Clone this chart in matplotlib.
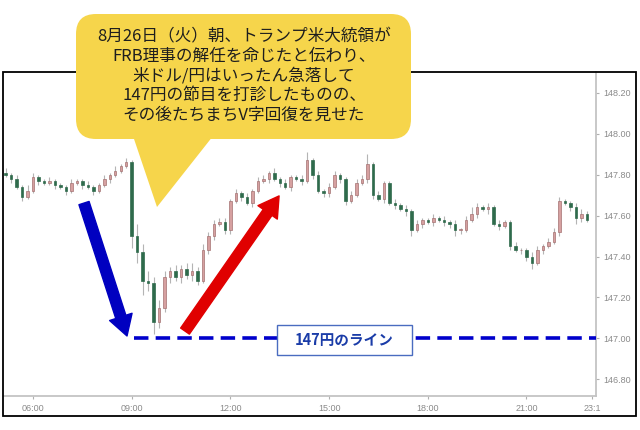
"""USD/JPY 10-minute candles on 2025-08-26 with the 147-yen callout"""
import numpy as np
import matplotlib
matplotlib.use("Agg")
import matplotlib.pyplot as plt
from matplotlib.patches import FancyBboxPatch, Polygon, Rectangle

plt.rcParams['font.family'] = ['Noto Sans CJK JP', 'DejaVu Sans']

# 10-minute closes, first candle 05:10, last 22:50
closes = [
    147.80, 147.78, 147.74, 147.69, 147.72,                  # 05
    147.79, 147.77, 147.76, 147.77, 147.75, 147.74,          # 06
    147.72, 147.76, 147.77, 147.75, 147.74, 147.72,          # 07
    147.75, 147.78, 147.80, 147.82, 147.84, 147.86,          # 08
    147.50, 147.42, 147.28, 147.27, 147.08, 147.15,          # 09
    147.30, 147.33, 147.30, 147.34, 147.31, 147.33,          # 10
    147.28, 147.43, 147.50, 147.56, 147.57, 147.53,          # 11
    147.67, 147.71, 147.69, 147.66, 147.72, 147.77,          # 12
    147.78, 147.81, 147.78, 147.76, 147.74, 147.79,          # 13
    147.78, 147.77, 147.87, 147.80, 147.72, 147.71,          # 14
    147.74, 147.80, 147.78, 147.67, 147.70, 147.76,          # 15
    147.78, 147.85, 147.70, 147.68, 147.76, 147.66,          # 16
    147.65, 147.63, 147.62, 147.53, 147.56, 147.58,          # 17
    147.57, 147.59, 147.58, 147.57, 147.56, 147.53,          # 18
    147.53, 147.58, 147.61, 147.64, 147.63, 147.64,          # 19
    147.56, 147.55, 147.57, 147.45, 147.43, 147.43,          # 20
    147.40, 147.37, 147.43, 147.45, 147.47, 147.52,          # 21
    147.67, 147.66, 147.64, 147.59, 147.61, 147.58,          # 22
]
first_open = 147.81

# wick lengths above / below the body
wick_up = [
    0.02, 0.01, 0.02, 0.01, 0.03,
    0.02, 0.01, 0.01, 0.02, 0.01, 0.01,
    0.01, 0.02, 0.01, 0.01, 0.02, 0.01,
    0.01, 0.02, 0.01, 0.02, 0.01, 0.02,
    0.01, 0.06, 0.04, 0.05, 0.03, 0.04,
    0.03, 0.02, 0.03, 0.02, 0.03, 0.04,
    0.02, 0.03, 0.02, 0.02, 0.02, 0.02,
    0.01, 0.02, 0.01, 0.02, 0.01, 0.02,
    0.02, 0.01, 0.02, 0.01, 0.02, 0.01,
    0.01, 0.02, 0.04, 0.01, 0.02, 0.01,
    0.02, 0.02, 0.01, 0.01, 0.02, 0.02,
    0.02, 0.05, 0.01, 0.02, 0.01, 0.01,
    0.02, 0.01, 0.02, 0.01, 0.02, 0.01,
    0.01, 0.02, 0.01, 0.02, 0.01, 0.02,
    0.01, 0.02, 0.03, 0.02, 0.01, 0.02,
    0.01, 0.02, 0.01, 0.01, 0.02, 0.01,
    0.01, 0.02, 0.02, 0.01, 0.02, 0.02,
    0.02, 0.01, 0.01, 0.02, 0.02, 0.01,
]
wick_dn = [
    0.01, 0.02, 0.01, 0.02, 0.01,
    0.01, 0.02, 0.01, 0.01, 0.02, 0.01,
    0.02, 0.01, 0.01, 0.02, 0.01, 0.02,
    0.01, 0.01, 0.02, 0.01, 0.01, 0.01,
    0.06, 0.05, 0.07, 0.04, 0.06, 0.03,
    0.02, 0.03, 0.02, 0.03, 0.02, 0.03,
    0.02, 0.01, 0.02, 0.02, 0.01, 0.02,
    0.02, 0.01, 0.02, 0.01, 0.02, 0.01,
    0.01, 0.02, 0.01, 0.02, 0.01, 0.02,
    0.01, 0.02, 0.01, 0.02, 0.01, 0.02,
    0.02, 0.01, 0.02, 0.02, 0.01, 0.01,
    0.01, 0.02, 0.02, 0.01, 0.02, 0.01,
    0.02, 0.01, 0.02, 0.03, 0.01, 0.02,
    0.01, 0.02, 0.01, 0.02, 0.02, 0.03,
    0.02, 0.01, 0.01, 0.02, 0.01, 0.02,
    0.01, 0.02, 0.01, 0.02, 0.01, 0.02,
    0.02, 0.03, 0.01, 0.02, 0.01, 0.01,
    0.02, 0.01, 0.02, 0.03, 0.02, 0.01,
]

x_ticks = [6, 9, 12, 15, 18, 21, 23]
x_labels = ["06:00", "09:00", "12:00", "15:00", "18:00", "21:00", "23:1"]
y_ticks = [146.80, 147.00, 147.20, 147.40, 147.60, 147.80, 148.00, 148.20]

key_level = 147.00
callout = ("8月26日（火）朝、トランプ米大統領が\n"
           "FRB理事の解任を命じたと伝わり、\n"
           "米ドル/円はいったん急落して\n"
           "147円の節目を打診したものの、\n"
           "その後たちまちV字回復を見せた")
level_label = "147円のライン"

# ---- candles
c = np.array(closes)
o = np.concatenate([[first_open], c[:-1]])
hi = np.maximum(o, c) + np.array(wick_up)
lo = np.minimum(o, c) - np.array(wick_dn)
t = 5 + 10 / 60 + np.arange(len(c)) / 6

fig = plt.figure(figsize=(6.4, 4.3), dpi=100)
ax = fig.add_axes([4 / 640, 1 - 396 / 430, 592 / 640, 324 / 430])

up = c >= o
body = np.where(np.abs(c - o) < 0.004, 0.004, c - o)
ax.vlines(t, lo, hi, color="#b4b4b4", lw=0.8, zorder=2)
ax.bar(t[up], body[up], bottom=o[up], width=0.075,
       color="#d6a0a0", edgecolor="#a47272", lw=0.5, zorder=3)
ax.bar(t[~up], body[~up], bottom=o[~up], width=0.075,
       color="#2f6b4c", edgecolor="#2f6b4c", lw=0.5, zorder=3)

ax.set_xlim(5.118, 23.113)
ax.set_ylim(146.719, 148.301)

for s in ["left", "top"]:
    ax.spines[s].set_visible(False)
for s in ["right", "bottom"]:
    ax.spines[s].set_color("#c4c4c4")
    ax.spines[s].set_linewidth(1.3)
ax.yaxis.tick_right()
ax.set_yticks(y_ticks)
ax.set_yticklabels([f"{v:.2f}" for v in y_ticks])
ax.set_xticks(x_ticks)
ax.set_xticklabels(x_labels)
ax.tick_params(colors="#b0b0b0", length=2.5, width=0.8, labelsize=6.5,
               labelcolor="#8a8a8a", pad=3)
for lab in ax.get_xticklabels() + ax.get_yticklabels():
    lab.set_family(["Liberation Sans", "DejaVu Sans"])

# ---- 147 line, label and arrows
ax.hlines(key_level, 9.06, 23.113, color="#0000cc", lw=2.6,
          linestyles=(0, (4, 2)), zorder=5)
ax.add_patch(FancyBboxPatch((13.42, 146.919), 4.10, 0.147,
                            boxstyle="square,pad=0", fc="white",
                            ec="#4a6cc0", lw=1.0, zorder=6))
ax.text(15.47, 146.993, level_label, ha="center", va="center",
        fontsize=10.5, fontweight="bold", color="#1a3ca8", zorder=7)

ax.annotate("", xy=(8.857, 147.012), xytext=(7.55, 147.661),
            arrowprops=dict(arrowstyle="simple,head_width=1.0,head_length=0.85,tail_width=0.45",
                            mutation_scale=17, fc="#0000c0", ec="#0000c0",
                            shrinkA=0, shrinkB=0), zorder=8)
ax.annotate("", xy=(13.48, 147.696), xytext=(10.62, 147.036),
            arrowprops=dict(arrowstyle="simple,head_width=1.0,head_length=0.85,tail_width=0.45",
                            mutation_scale=17, fc="#e00000", ec="#e00000",
                            shrinkA=0, shrinkB=0), zorder=8)

# ---- frame and speech bubble, drawn in pixel space
ov = fig.add_axes([0, 0, 1, 1], zorder=10)
ov.set_xlim(0, 640)
ov.set_ylim(430, 0)
ov.axis("off")
ov.add_patch(Rectangle((3, 72), 633, 344, fill=False, ec="black", lw=1.3, zorder=1))
ov.add_patch(FancyBboxPatch((76, 14), 335, 125,
                            boxstyle="round,pad=0,rounding_size=20",
                            fc="#f6d54b", ec="none", zorder=2))
ov.add_patch(Polygon([(133, 136), (213, 136), (157, 207)], closed=True,
                     fc="#f6d54b", ec="none", zorder=2))
ov.text(244, 76, callout, ha="center", va="center", fontsize=12,
        linespacing=1.2, color="#1e1e1e", zorder=3)

fig.savefig("out.png", dpi=100)
